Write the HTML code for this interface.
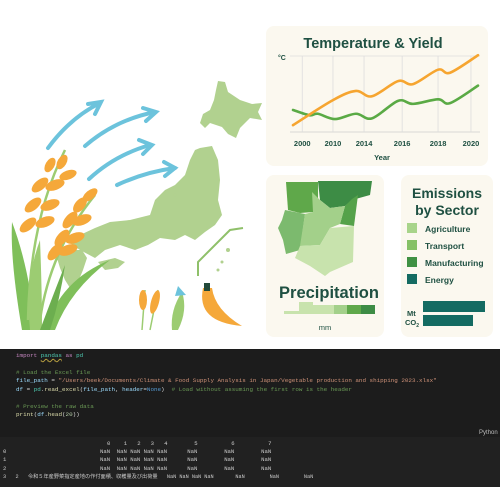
<!DOCTYPE html>
<html><head><meta charset="utf-8">
<style>
html,body{margin:0;padding:0;background:#fff;width:500px;height:500px;overflow:hidden;font-family:"Liberation Sans","Noto Sans CJK JP",sans-serif}
#root{position:relative;width:500px;height:500px;overflow:hidden}
.code{position:absolute;left:0;top:349px;width:500px;height:88px;background:#1c1c1c;overflow:hidden}
.out{position:absolute;left:0;top:437px;width:500px;height:50px;background:#212121;overflow:hidden}
.mono{font-family:"Liberation Mono","Noto Sans CJK JP",monospace;font-size:5.9px;white-space:pre;position:absolute;line-height:8px}
.o{position:absolute;font-family:"Liberation Mono","Noto Sans CJK JP",monospace;font-size:5.6px;color:#ccc;white-space:pre;line-height:8px}
</style></head><body><div id="root">
<svg width="500" height="345" style="position:absolute;left:0;top:0">
<rect x="266" y="26" width="222" height="140" rx="8" fill="#fbf8ef"/>
<rect x="266" y="175" width="118" height="162" rx="8" fill="#fbf8ef"/>
<rect x="401" y="175" width="92" height="162" rx="8" fill="#fbf8ef"/>
<g fill="#b1d18f">
<path d="M218,81 L225,82 L228,92 L240,100 L252,104 L262,103 L258,112 L262,120 L250,118 L240,128 L236,138 L228,134 L222,127 L210,123 L205,128 L200,123 L203,114 L210,110 L214,100 L216,90 Z"/>
<path d="M200,148 L212,146 L218,160 L220,180 L218,200 L222,215 L215,225 L205,232 L195,240 L185,235 L175,240 L160,238 L148,245 L135,250 L120,245 L105,250 L95,258 L80,250 L70,243 L80,235 L95,228 L110,222 L130,220 L150,215 L155,200 L165,190 L175,185 L185,175 L190,160 L195,150 Z"/>
<path d="M60,250 L82,250 L87,258 L83,270 L78,282 L70,288 L65,280 L60,268 L57,258 Z"/>
<path d="M98,262 L115,258 L125,262 L118,268 L105,270 Z"/>
<circle cx="175" cy="195" r="2"/><circle cx="228" cy="250" r="2"/><circle cx="222" cy="262" r="1.5"/><circle cx="218" cy="270" r="1.5"/>
</g>
<path d="M198,276 L198,262 L230,230 L243,228" fill="none" stroke="#8fc06a" stroke-width="2"/>
<g fill="none" stroke="#6cc3dc" stroke-width="4" stroke-linecap="round">
<path d="M48,148 Q70,118 100,103"/><path d="M88,104 L101,102 L95,114"/>
<path d="M85,146 Q115,120 155,112"/><path d="M143,108 L156,112 L146,121"/>
<path d="M89,179 Q115,155 150,145"/><path d="M139,140 L152,145 L143,154"/>
<path d="M117,185 Q145,172 175,168"/><path d="M164,162 L175,168 L165,176"/>
</g>
<g>
<path d="M22,330 Q10,260 12,222 Q30,270 35,330 Z" fill="#7fbf5a"/>
<path d="M30,330 Q25,280 40,240 Q42,290 42,330 Z" fill="#9ccc72"/>
<path d="M45,330 Q60,280 110,260 Q70,290 55,330 Z" fill="#7fbf5a"/>
<path d="M40,330 Q55,290 65,265 Q60,300 50,330 Z" fill="#6cae4f"/>
<path d="M28,320 Q30,220 65,150" fill="none" stroke="#9ccc72" stroke-width="2.5"/>
<path d="M40,320 Q50,250 95,195" fill="none" stroke="#9ccc72" stroke-width="2.5"/>
<g fill="#f5a83a">
<ellipse cx="40" cy="185" rx="10" ry="5" transform="rotate(-40 40 185)"/><ellipse cx="33" cy="205" rx="10" ry="5" transform="rotate(-40 33 205)"/>
<ellipse cx="28" cy="225" rx="10" ry="5" transform="rotate(-40 28 225)"/><ellipse cx="55" cy="185" rx="10" ry="5" transform="rotate(-20 55 185)"/>
<ellipse cx="50" cy="205" rx="10" ry="5" transform="rotate(-20 50 205)"/><ellipse cx="45" cy="222" rx="10" ry="5" transform="rotate(-20 45 222)"/>
<ellipse cx="62" cy="162" rx="8" ry="4.5" transform="rotate(-60 62 162)"/><ellipse cx="50" cy="165" rx="8" ry="4.5" transform="rotate(-60 50 165)"/>
<ellipse cx="68" cy="175" rx="9" ry="4.5" transform="rotate(-20 68 175)"/>
<ellipse cx="80" cy="205" rx="9" ry="5" transform="rotate(-50 80 205)"/><ellipse cx="90" cy="195" rx="9" ry="4.5" transform="rotate(-40 90 195)"/>
<ellipse cx="70" cy="220" rx="10" ry="5" transform="rotate(-50 70 220)"/><ellipse cx="82" cy="220" rx="10" ry="5" transform="rotate(-20 82 220)"/>
<ellipse cx="62" cy="238" rx="10" ry="5" transform="rotate(-50 62 238)"/><ellipse cx="75" cy="238" rx="10" ry="5" transform="rotate(-20 75 238)"/>
<ellipse cx="55" cy="252" rx="10" ry="5" transform="rotate(-50 55 252)"/><ellipse cx="68" cy="250" rx="10" ry="5" transform="rotate(-20 68 250)"/>
</g></g>
<g>
<path d="M142,330 L145,290 M150,330 L158,290" stroke="#9ccc72" stroke-width="1.5"/>
<ellipse cx="143" cy="300" rx="4" ry="10" fill="#f5a83a"/><ellipse cx="155" cy="302" rx="4" ry="12" fill="#f5a83a" transform="rotate(15 155 302)"/>
<path d="M172,330 Q170,310 182,292 Q188,310 178,330 Z" fill="#9ccc72"/><path d="M178,286 L186,295 L175,296 Z" fill="#6cc3dc"/>
<path d="M203,288 Q196,322 242,326 Q215,310 212,288 Z" fill="#f5a83a"/><rect x="204" y="283" width="6" height="8" fill="#234a3a"/>
</g>
<text x="373" y="48" text-anchor="middle" font-size="14.5" font-weight="bold" fill="#1f5042">Temperature &amp; Yield</text>
<text x="278" y="60" font-size="7" font-weight="bold" fill="#1f5042">°C</text>
<line x1="290" y1="56" x2="480" y2="56" stroke="#ddd" stroke-width="0.8"/>
<line x1="290" y1="132" x2="480" y2="132" stroke="#ccc" stroke-width="0.8"/>
<g id="grid"></g><g id="xt"></g><g id="lines"></g>
<text x="382" y="160" text-anchor="middle" font-size="7.5" font-weight="bold" fill="#1f5042">Year</text>
<g>
<path d="M286,182 L318,182 L318,200 L313,212 L300,213 L288,210 Z" fill="#5fa84a"/>
<path d="M318,181 L372,181 L370,195 L352,200 L345,206 L330,208 L320,200 Z" fill="#3d8c45"/>
<path d="M352,199 L358,195 L354,226 L340,224 L345,206 Z" fill="#55a24a"/>
<path d="M285,210 L305,214 L300,250 L286,254 L283,240 L278,228 L282,220 Z" fill="#7cba6e"/>
<path d="M312,192 L320,200 L330,208 L345,206 L340,224 L330,228 L320,245 L300,246 L305,214 L313,212 Z" fill="#a3d08a"/>
<path d="M300,246 L320,245 L330,228 L354,226 L353,262 L330,272 L325,276 L310,266 L295,258 Z" fill="#c8e3ad"/>
</g>
<text x="329" y="298" text-anchor="middle" font-size="16.5" font-weight="bold" fill="#1f5042">Precipitation</text>
<g>
<rect x="284" y="311" width="15" height="3" fill="#c8e3ad"/><rect x="299" y="302" width="14" height="12" fill="#c8e3ad"/>
<rect x="313" y="305" width="21" height="9" fill="#c8e3ad"/><rect x="334" y="305" width="13" height="9" fill="#a3d08a"/>
<rect x="347" y="305" width="14" height="9" fill="#5fa84a"/><rect x="361" y="305" width="14" height="9" fill="#3d8c45"/>
</g>
<text x="325" y="330" text-anchor="middle" font-size="7.5" fill="#1f5042">mm</text>
<text x="447" y="198" text-anchor="middle" font-size="14" font-weight="bold" fill="#1f5042">Emissions</text>
<text x="447" y="215" text-anchor="middle" font-size="14" font-weight="bold" fill="#1f5042">by Sector</text>
<g font-size="8.5" font-weight="bold" fill="#1f5042">
<rect x="407" y="223" width="10" height="10" fill="#a8d48a"/><text x="425" y="232">Agriculture</text>
<rect x="407" y="240" width="10" height="10" fill="#86c166"/><text x="425" y="249">Transport</text>
<rect x="407" y="257" width="10" height="10" fill="#3f9143"/><text x="425" y="266">Manufacturing</text>
<rect x="407" y="274" width="10" height="10" fill="#146b62"/><text x="425" y="283">Energy</text>
<text x="407" y="316" font-size="7.5">Mt</text>
<text x="405" y="325" font-size="7.5">CO<tspan font-size="5" dy="2">2</tspan></text>
</g>
<g id="ebars"></g>
</svg>
<div class="code">
<div class="mono" style="left:16px;top:3px;color:#c586c0">import <span style="color:#4ec9b0;text-decoration:underline wavy #b8a040">pandas</span> as <span style="color:#4ec9b0">pd</span></div>
<div class="mono" style="left:16px;top:20px;color:#6a9955"># Load the Excel file</div>
<div class="mono" style="left:16px;top:28px;color:#9cdcfe">file_path <span style="color:#d4d4d4">=</span> <span style="color:#ce9178">"/Users/beek/Documents/Climate &amp; Food Supply Analysis in Japan/Vegetable production and shipping 2023.xlsx"</span></div>
<div class="mono" style="left:16px;top:37px;color:#9cdcfe">df <span style="color:#d4d4d4">=</span> <span style="color:#4ec9b0">pd</span><span style="color:#d4d4d4">.</span><span style="color:#dcdcaa">read_excel</span><span style="color:#d4d4d4">(</span>file_path<span style="color:#d4d4d4">,</span> header<span style="color:#d4d4d4">=</span><span style="color:#569cd6">None</span><span style="color:#d4d4d4">)</span>  <span style="color:#6a9955"># Load without assuming the first row is the header</span></div>
<div class="mono" style="left:16px;top:54px;color:#6a9955"># Preview the raw data</div>
<div class="mono" style="left:16px;top:62px;color:#dcdcaa">print<span style="color:#d4d4d4">(</span><span style="color:#9cdcfe">df</span><span style="color:#d4d4d4">.</span>head<span style="color:#d4d4d4">(</span><span style="color:#b5cea8">20</span><span style="color:#d4d4d4">))</span></div>
<div class="mono" style="left:479px;top:80px;color:#bbb;font-family:'Liberation Sans',sans-serif;font-size:6px">Python</div>
</div>
<div class="out">
<div class="o" style="left:107px;top:3px">0    1   2   3   4        5          6          7</div>
<div class="o" style="left:3px;top:11px">0</div><div class="o" style="left:100px;top:11px">NaN  NaN NaN NaN NaN      NaN        NaN        NaN</div>
<div class="o" style="left:3px;top:19px">1</div><div class="o" style="left:100px;top:19px">NaN  NaN NaN NaN NaN      NaN        NaN        NaN</div>
<div class="o" style="left:3px;top:28px">2</div><div class="o" style="left:100px;top:28px">NaN  NaN NaN NaN NaN      NaN        NaN        NaN</div>
<div class="o" style="left:3px;top:36px;font-size:5.2px">3   2   令和５年産野菜指定産地の作付面積、収穫量及び出荷量   NaN NaN NaN NaN       NaN        NaN        NaN</div>
</div>
</div>
<script>
const tickYears=["2000","2010","2014","2016","2018","2020"];
const tickPos=[5,21.6,38.4,59,78.4,96.2];
const orangeT=[0,21.6,34,42.7,56.8,64.9,78.4,84.9,100];
const orangeV=[0.9,4.2,5.4,4.7,6.7,6.3,8.2,7.8,10.1];
const greenT=[0,9,13.5,22.7,34,42.7,56.8,64.9,78.4,84.9,100];
const greenV=[2.9,2.2,2.4,1.7,2.4,1.8,4.1,3.7,4.3,3.8,6.1];
const emissionLabels=["Mt","CO2"];
const emissionValues=[62,50];
const NS="http://www.w3.org/2000/svg";
const xS=t=>293+t*1.85, yS=v=>132-v*7.6;
function mk(tag,attrs,parent){const e=document.createElementNS(NS,tag);for(const k in attrs)e.setAttribute(k,attrs[k]);parent.appendChild(e);return e;}
const grid=document.getElementById('grid'),xt=document.getElementById('xt');
tickYears.forEach((y,i)=>{
 const l=mk('line',{x1:xS(tickPos[i]),x2:xS(tickPos[i]),y1:56,y2:132,stroke:'#ddd','stroke-width':0.8},grid);
 
 
 const t=mk('text',{x:xS(tickPos[i]),y:146,'text-anchor':'middle','font-size':7.5,'font-weight':'bold',fill:'#1f5042'},xt);
 t.textContent=y;
 
 
});
function smooth(T,V){const p=T.map((t,i)=>[xS(t),yS(V[i])]);let d='M'+p[0][0]+','+p[0][1];
 for(let i=0;i<p.length-1;i++){const p0=p[i-1]||p[i],p1=p[i],p2=p[i+1],p3=p[i+2]||p2;
 d+=' C'+(p1[0]+(p2[0]-p0[0])/6)+','+(p1[1]+(p2[1]-p0[1])/6)+' '+(p2[0]-(p3[0]-p1[0])/6)+','+(p2[1]-(p3[1]-p1[1])/6)+' '+p2[0]+','+p2[1];}return d;}
const lines=document.getElementById('lines');
const g=mk('path',{d:smooth(greenT,greenV),fill:'none',stroke:'#5aaa45','stroke-width':2.6,'stroke-linecap':'round'},lines);


const o=mk('path',{d:smooth(orangeT,orangeV),fill:'none',stroke:'#f6a530','stroke-width':2.6,'stroke-linecap':'round'},lines);


const eb=document.getElementById('ebars');
emissionValues.forEach((v,i)=>{
 const r=mk('rect',{x:423,y:301+i*14,width:v,height:11,fill:'#146b62'},eb);
 
 
});
</script>
</body></html>
